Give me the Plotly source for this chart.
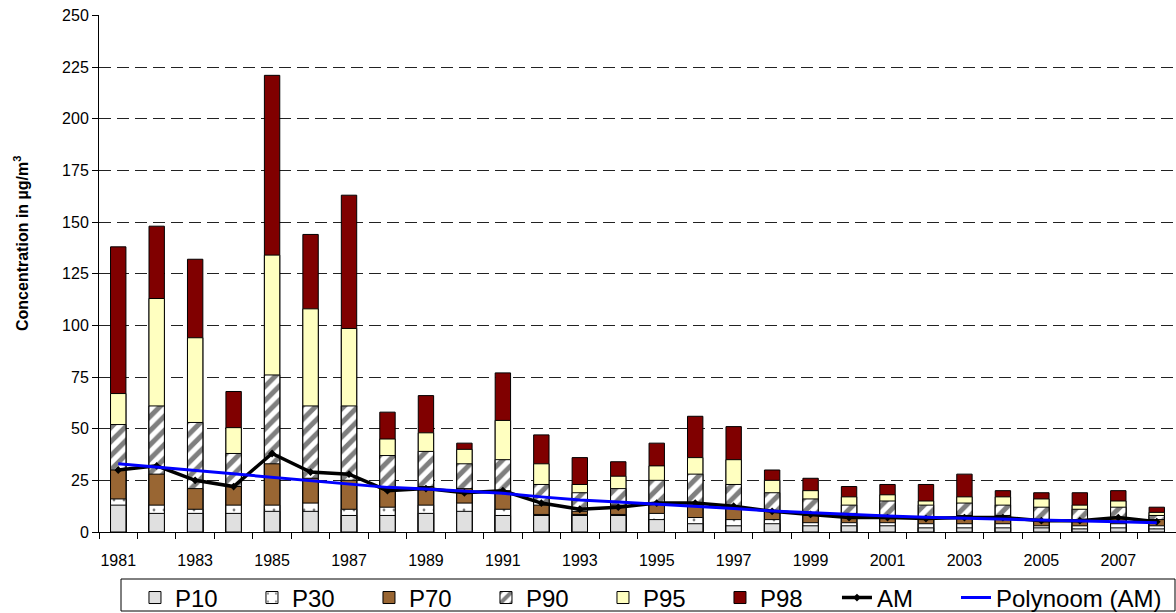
import plotly.graph_objects as go

years = list(range(1981, 2009))

p98 = [138, 148, 132, 68, 221, 144, 163, 58, 66, 43, 77, 47, 36, 34, 43, 56, 51, 30, 26, 22, 23, 23, 28, 20, 19, 19, 20, 12]
p95 = [67, 113, 94, 50.5, 134, 108, 98.5, 45, 48, 40, 54, 33, 23, 27, 32, 36, 35, 25, 20, 17, 18, 15, 17, 17, 16, 13, 15, 9.5]
p90 = [52, 61, 53, 38, 76, 61, 61, 37, 39, 33, 35, 23, 19, 21, 25, 28, 23, 19, 16, 13, 15, 13, 14, 13, 12, 11, 12, 8]
p70 = [30, 28, 21, 22, 33, 26, 25, 21, 22, 21, 20, 13, 10, 13, 14, 14, 12, 10, 8, 9, 8, 7, 8, 8, 6, 6, 7, 6]
p30 = [16, 13, 11, 13, 13, 14, 11, 12, 13, 14, 11, 8.5, 8.5, 8.5, 9, 7, 6, 6, 4.5, 4.5, 4.5, 4, 4, 4, 3, 3, 4, 3]
p10 = [13, 9, 9, 9, 10, 10, 8, 8, 9, 10, 8, 8, 8, 8, 6, 4, 3, 4, 3, 3, 3, 2, 2, 2, 2, 1.5, 2, 1.5]
am = [30, 32, 25, 22, 38, 29, 28, 20, 21, 19, 20, 14, 11, 12, 14, 14, 12.5, 10, 8.5, 7, 7, 6.5, 7, 7, 5.5, 5.5, 7, 5]
trend = [33, 31.4, 29.7, 28, 26.4, 24.8, 23.2, 21.6, 20.8, 19.8, 18.7, 17, 15.5, 14.5, 13.5, 12.6, 11.4, 10.2, 9.3, 8.5, 7.7, 7.1, 6.6, 6.1, 5.7, 5.3, 4.9, 4.5]

y_ticks = list(range(0, 251, 25))
x_ticks = list(range(1981, 2009, 2))

FONT = "Liberation Sans, Arial, sans-serif"
fig = go.Figure()

bar_specs = [
    ("P98", p98, dict(color="#800000"), 6),
    ("P95", p95, dict(color="#FFFFC0"), 5),
    ("P90", p90, dict(color="white", pattern=dict(shape="/", fgcolor="black", bgcolor="white", size=10, solidity=0.5)), 4),
    ("P70", p70, dict(color="#996633"), 3),
    ("P30", p30, dict(color="white", pattern=dict(shape=".", fgcolor="black", bgcolor="white", size=10, solidity=0.06)), 2),
    ("P10", p10, dict(color="#E0E0E0"), 1),
]
for name, vals, mk, rank in bar_specs:
    mk = dict(mk)
    mk["line"] = dict(color="black", width=1)
    fig.add_trace(go.Bar(x=years, y=vals, name=name, marker=mk, width=0.4, legendrank=rank))

fig.add_trace(go.Scatter(x=years, y=am, name="AM", mode="lines+markers",
                         line=dict(color="black", width=3.5),
                         marker=dict(symbol="diamond", size=6, color="black"), legendrank=7))
fig.add_trace(go.Scatter(x=years, y=trend, name="Polynoom (AM)", mode="lines",
                         line=dict(color="#0000FF", width=3), legend="legend2"))

fig.update_layout(
    width=1176, height=613,
    margin=dict(l=99, r=0, t=15, b=81, autoexpand=False),
    barmode="overlay",
    plot_bgcolor="white", paper_bgcolor="white",
    font=dict(family=FONT, size=16, color="black"),
    showlegend=True,
    legend=dict(orientation="h", x=0.0334, xanchor="left", y=-0.084, yanchor="top",
                font=dict(size=24), entrywidth=72, entrywidthmode="pixels",
                borderwidth=0, bgcolor="rgba(0,0,0,0)", traceorder="normal"),
    legend2=dict(orientation="h", x=(956 - 99) / 1077, xanchor="left", y=-0.084, yanchor="top",
                 font=dict(size=24), borderwidth=0, bgcolor="rgba(0,0,0,0)"),
)
fig.update_yaxes(range=[0, 250.2], tickvals=y_ticks, ticks="outside", ticklen=6, tickcolor="black",
                 showline=True, linecolor="black", linewidth=1,
                 showgrid=True, gridcolor="#222", griddash="12px,6px", gridwidth=1,
                 zeroline=False, tickfont=dict(size=16))
fig.update_xaxes(range=[1980.5, 2008.5], tickvals=x_ticks, ticks="", showgrid=False,
                 showline=True, linecolor="black", linewidth=1, zeroline=False,
                 tickfont=dict(size=16), ticklabelstandoff=14,
                 minor=dict(ticks="outside", ticklen=6, tickcolor="black", tick0=1980.5, dtick=1, showgrid=False))

fig.add_annotation(text="<b>Concentration in µg/m<sup>3</sup></b>", textangle=-90,
                   xref="paper", yref="paper", x=(21 - 99) / 1077, y=(532 - 244) / 517,
                   xanchor="center", yanchor="middle", showarrow=False,
                   font=dict(size=16, family=FONT))
fig.add_shape(type="rect", xref="paper", yref="paper",
              x0=(121 - 99) / 1077, x1=(1175 - 99) / 1077,
              y0=(532 - 579) / 517, y1=(532 - 611) / 517,
              line=dict(color="black", width=1), fillcolor="rgba(0,0,0,0)")

fig.write_html("out.html", config={"displayModeBar": False},
               post_script="document.body.style.margin='0';document.body.style.overflow='hidden';")
